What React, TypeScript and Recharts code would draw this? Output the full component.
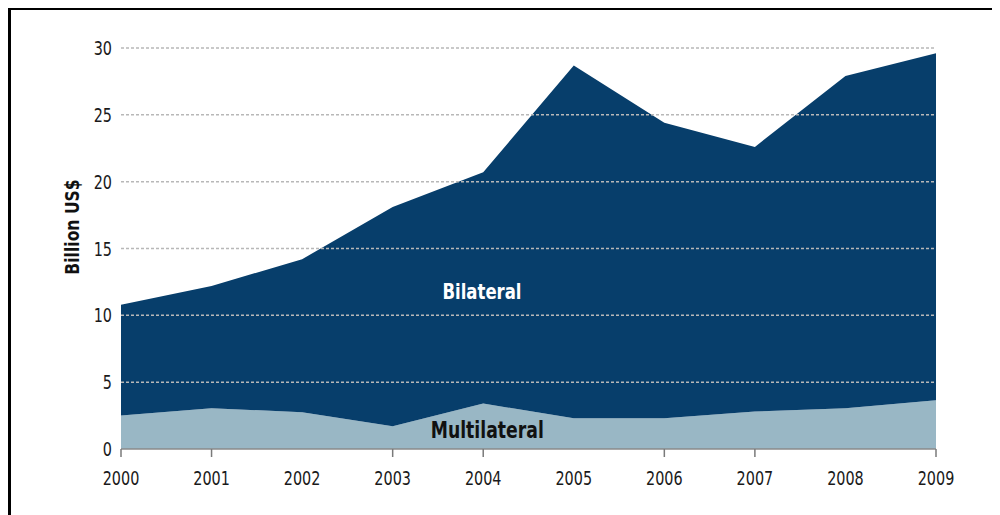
import React from "react"
import {
  AreaChart,
  Area,
  XAxis,
  YAxis,
  ReferenceLine,
} from "recharts"

const years = [2000, 2001, 2002, 2003, 2004, 2005, 2006, 2007, 2008, 2009]
const multilateral = [2.5, 3.05, 2.75, 1.7, 3.4, 2.3, 2.3, 2.8, 3.05, 3.65]
const bilateral = [8.3, 9.15, 11.45, 16.4, 17.3, 26.4, 22.1, 19.8, 24.85, 25.95]
const yTicks = [0, 5, 10, 15, 20, 25, 30]
const gridLines = [5, 10, 15, 20, 25, 30]
// the original only draws a tick mark on some of the years
const tickMarkYears = [2000, 2001, 2003, 2004, 2006, 2007, 2009]

const data = years.map((year, i) => ({
  year,
  multilateral: multilateral[i],
  bilateral: bilateral[i],
}))

const font = "'DejaVu Sans', sans-serif"
const squeeze = 0.72

const XTick = (props: any) => {
  const { x, y, payload } = props
  return (
    <g transform={`translate(${x},${y})`}>
      {tickMarkYears.includes(payload.value) && (
        <line x1={0} x2={0} y1={-22} y2={-14} stroke="#7a7a7a" strokeWidth={1.5} />
      )}
      <text
        transform={`scale(${squeeze},1)`}
        textAnchor="middle"
        dy="0.71em"
        fill="#1a1a1a"
        fontSize={20}
        fontFamily={font}
      >
        {payload.value}
      </text>
    </g>
  )
}

const YTick = (props: any) => {
  const { x, y, payload } = props
  return (
    <g transform={`translate(${x},${y})`}>
      <text
        transform={`scale(${squeeze},1)`}
        textAnchor="end"
        dy="0.355em"
        fill="#1a1a1a"
        fontSize={20}
        fontFamily={font}
      >
        {payload.value}
      </text>
    </g>
  )
}

const App: React.FC = () => {
  return (
    <div
      style={{
        position: "relative",
        width: 981,
        height: 507,
        borderTop: "3px solid #000",
        borderLeft: "3px solid #000",
        marginTop: -1,
        fontFamily: font,
        overflow: "hidden",
      }}
    >
      <AreaChart
        width={981}
        height={505}
        data={data}
        margin={{ top: 38, right: 56, left: 0, bottom: 28 }}
      >
        {/* Axes */}
        <XAxis
          dataKey="year"
          type="number"
          domain={[2000, 2009]}
          ticks={years}
          interval={0}
          height={38}
          tickSize={0}
          tickMargin={22}
          axisLine={{ stroke: "#8a8a8a", strokeWidth: 1.5 }}
          tickLine={false}
          tick={<XTick />}
        />
        <YAxis
          domain={[0, 30]}
          ticks={yTicks}
          width={110}
          tickSize={0}
          tickMargin={9}
          axisLine={false}
          tickLine={false}
          tick={<YTick />}
        />

        {/* Stacked series */}
        <Area
          type="linear"
          dataKey="multilateral"
          stackId="a"
          stroke="none"
          fill="#99b7c5"
          fillOpacity={1}
          isAnimationActive={false}
        />
        <Area
          type="linear"
          dataKey="bilateral"
          stackId="a"
          stroke="none"
          fill="#073e6b"
          fillOpacity={1}
          isAnimationActive={false}
        />

        {/* Dashed grid over the areas */}
        {gridLines.map((v) => (
          <ReferenceLine
            key={v}
            y={v}
            stroke="#b8b8b8"
            strokeWidth={1.5}
            strokeDasharray="3 2"
          />
        ))}
      </AreaChart>

      {/* Labels */}
      <div
        style={{
          position: "absolute",
          left: -9,
          top: 206,
          width: 140,
          textAlign: "center",
          transform: "rotate(-90deg) scaleX(0.78)",
          fontWeight: "bold",
          fontSize: 20,
          color: "#111",
          lineHeight: "22px",
        }}
      >
        Billion US$
      </div>
      <div
        style={{
          position: "absolute",
          left: 401,
          top: 270,
          width: 140,
          textAlign: "center",
          transform: "scaleX(0.75)",
          fontWeight: "bold",
          fontSize: 22,
          color: "#fff",
          lineHeight: "24px",
        }}
      >
        Bilateral
      </div>
      <div
        style={{
          position: "absolute",
          left: 401,
          top: 407,
          width: 150,
          textAlign: "center",
          transform: "scaleX(0.75)",
          fontWeight: "bold",
          fontSize: 23,
          color: "#111",
          lineHeight: "26px",
        }}
      >
        Multilateral
      </div>
    </div>
  )
}

export default App
